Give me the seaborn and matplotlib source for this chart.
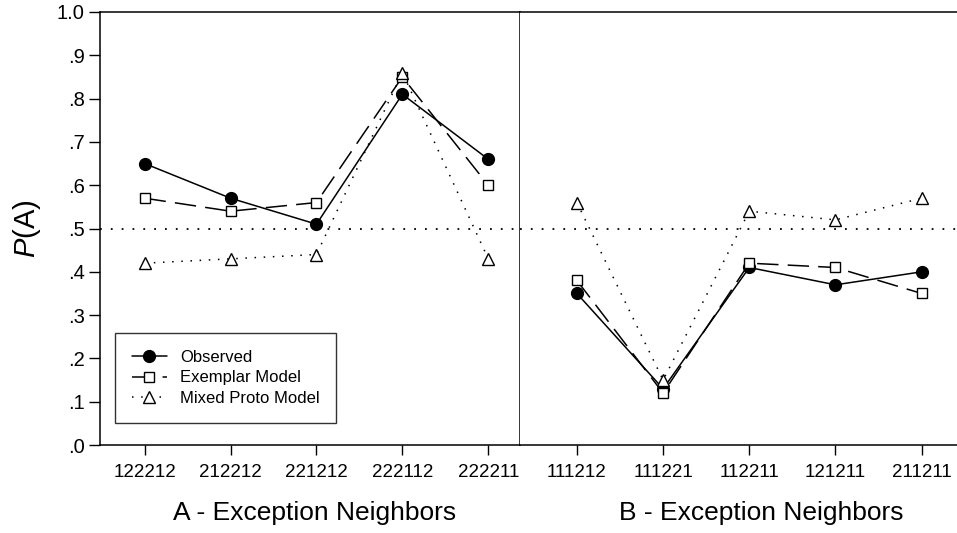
import matplotlib

matplotlib.use("Agg")
import matplotlib.pyplot as plt
import pandas as pd
import seaborn as sns

# panel A - exception neighbors
A_LABELS = ["122212", "212212", "221212", "222112", "222211"]
A_OBSERVED = [0.65, 0.57, 0.51, 0.81, 0.66]
A_EXEMPLAR = [0.57, 0.54, 0.56, 0.85, 0.60]
A_MIXED = [0.42, 0.43, 0.44, 0.86, 0.43]

# panel B - exception neighbors
B_LABELS = ["111212", "111221", "112211", "121211", "211211"]
B_OBSERVED = [0.35, 0.13, 0.41, 0.37, 0.40]
B_EXEMPLAR = [0.38, 0.12, 0.42, 0.41, 0.35]
B_MIXED = [0.56, 0.15, 0.54, 0.52, 0.57]

Y_TICKS = [0.0, 0.1, 0.2, 0.3, 0.4, 0.5, 0.6, 0.7, 0.8, 0.9, 1.0]
Y_TICKLABELS = [".0", ".1", ".2", ".3", ".4", ".5", ".6", ".7", ".8", ".9", "1.0"]

sns.set_style("ticks")
plt.rcParams["font.family"] = ["Liberation Sans", "DejaVu Sans"]
plt.rcParams.update({
    "mathtext.fontset": "custom",
    "mathtext.it": "Liberation Sans:italic",
    "mathtext.rm": "Liberation Sans",
    "text.color": "black",
    "axes.labelcolor": "black",
    "axes.edgecolor": "black",
    "xtick.color": "black",
    "ytick.color": "black",
})

STYLES = {
    "Observed": dict(linestyle="-", marker="o", markerfacecolor="black", markersize=8.5),
    "Exemplar Model": dict(linestyle=(0, (14, 6)), marker="s", markerfacecolor="white", markersize=7.5),
    "Mixed Proto Model": dict(linestyle=(0, (1, 5)), marker="^", markerfacecolor="white", markersize=8),
}


def _panel(ax, labels, obs, exm, mix, xlabel, xlim, label_x):
    df = pd.DataFrame({
        "pattern": labels * 3,
        "p": obs + exm + mix,
        "series": ["Observed"] * 5 + ["Exemplar Model"] * 5 + ["Mixed Proto Model"] * 5,
    })
    for name, st in STYLES.items():
        sub = df[df["series"] == name]
        sns.lineplot(data=sub, x="pattern", y="p", ax=ax, color="black", linewidth=1.1,
                     markeredgecolor="black", markeredgewidth=1.0, label=name, sort=False, **st)
    ax.axhline(0.5, color="black", linestyle=(0, (1, 5)), linewidth=1.3, zorder=0)
    ax.set_xlim(*xlim)
    ax.set_ylim(0, 1.0)
    ax.set_xlabel(xlabel, fontsize=19)
    ax.xaxis.set_label_coords(label_x, -0.13)
    ax.tick_params(axis="x", direction="out", length=7, width=1, labelsize=13.5, pad=7)
    for s in ax.spines.values():
        s.set_linewidth(1.1)


fig = plt.figure(figsize=(9.57, 5.33), dpi=100)
ax_a = fig.add_axes([0.1045, 0.165, 0.4389, 0.8125])
ax_b = fig.add_axes([0.5434, 0.165, 0.4566, 0.8125])

_panel(ax_a, A_LABELS, A_OBSERVED, A_EXEMPLAR, A_MIXED, "A - Exception Neighbors", (-0.52, 4.37), 0.512)
_panel(ax_b, B_LABELS, B_OBSERVED, B_EXEMPLAR, B_MIXED, "B - Exception Neighbors", (-0.66, 4.41), 0.552)

ax_a.set_yticks(Y_TICKS)
ax_a.set_yticklabels(Y_TICKLABELS)
ax_a.tick_params(axis="y", direction="out", length=8, width=1, labelsize=14.5, pad=3)
ax_a.set_ylabel("$\\it{P}$(A)", fontsize=21, labelpad=10)

ax_b.set_yticks([])
ax_b.set_ylabel("")
ax_b.spines["right"].set_visible(False)
ax_b.spines["left"].set_visible(False)
ax_b.get_legend().remove()

leg = ax_a.legend(loc="lower left", bbox_to_anchor=(0.036, 0.051), borderaxespad=0, fontsize=12,
                  frameon=True, fancybox=False, edgecolor="black", handlelength=2.1,
                  borderpad=1.0, labelspacing=0.35, handletextpad=0.8)
leg.get_frame().set_linewidth(1.0)

fig.savefig("out.png", dpi=100)
